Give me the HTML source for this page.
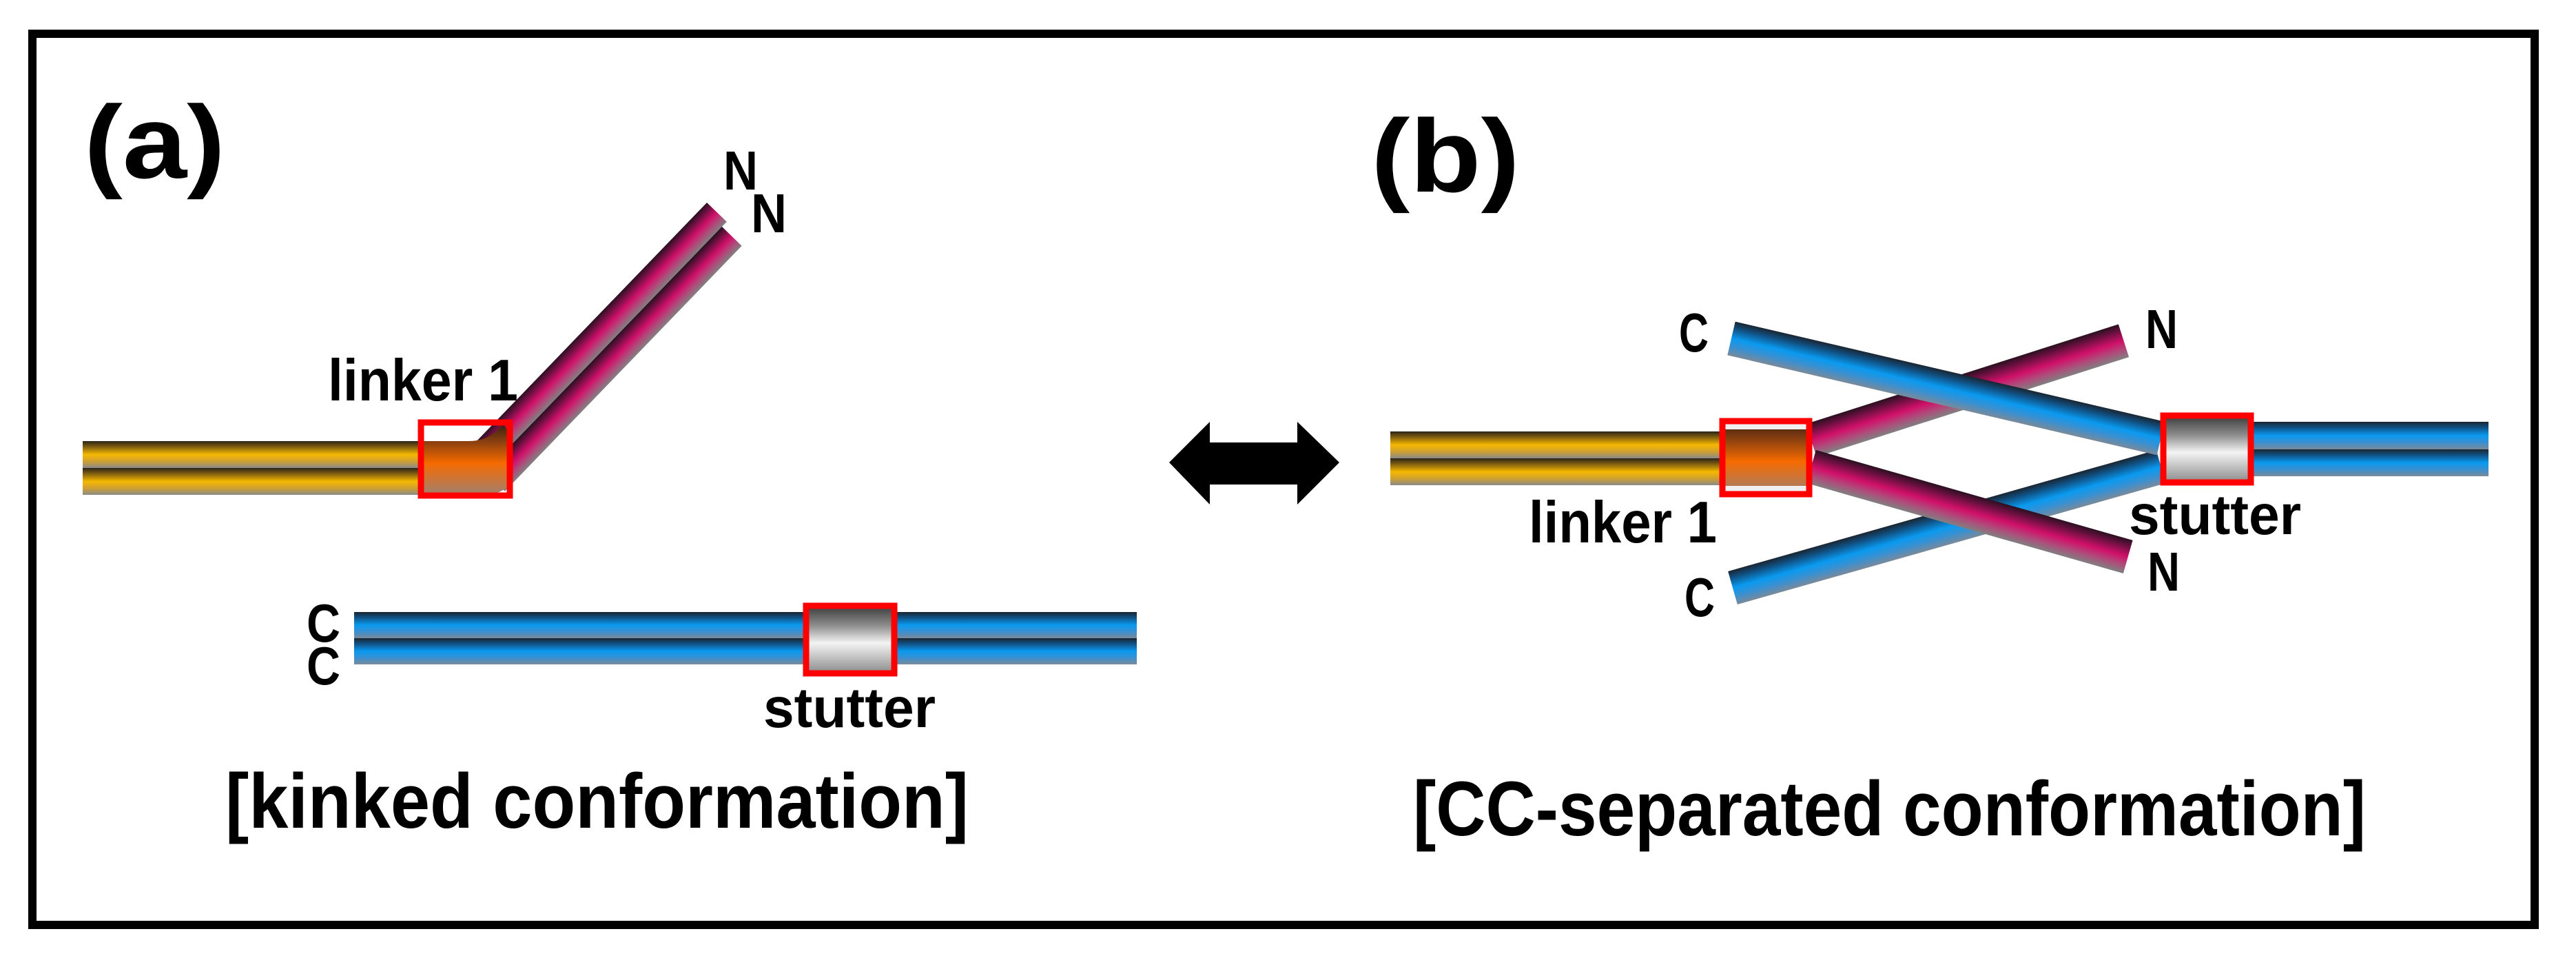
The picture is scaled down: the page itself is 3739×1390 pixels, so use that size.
<!DOCTYPE html>
<html><head><meta charset="utf-8"><style>
html,body{margin:0;padding:0;background:#fff;}
svg{display:block;}
text{font-family:"Liberation Sans Narrow","Liberation Sans",sans-serif;font-weight:bold;fill:#000;}
</style></head><body>
<svg width="3739" height="1390" viewBox="0 0 3739 1390" xmlns="http://www.w3.org/2000/svg">
<defs>
<linearGradient id="gold" x1="0" y1="0" x2="0" y2="1">
<stop offset="0" stop-color="#2a2418"/><stop offset="0.2" stop-color="#7a5a10"/><stop offset="0.5" stop-color="#f5b800"/><stop offset="0.75" stop-color="#d0a030"/><stop offset="1" stop-color="#8a8a8a"/>
</linearGradient>
<linearGradient id="blue" x1="0" y1="0" x2="0" y2="1">
<stop offset="0" stop-color="#1a2530"/><stop offset="0.2" stop-color="#104f80"/><stop offset="0.5" stop-color="#0a9af0"/><stop offset="0.75" stop-color="#3a90d0"/><stop offset="1" stop-color="#7a8a9a"/>
</linearGradient>
<linearGradient id="mag" x1="0" y1="0" x2="0" y2="1">
<stop offset="0" stop-color="#2a1020"/><stop offset="0.2" stop-color="#6a1040"/><stop offset="0.5" stop-color="#d0106a"/><stop offset="0.75" stop-color="#b04a7a"/><stop offset="1" stop-color="#808080"/>
</linearGradient>
<linearGradient id="orange" x1="0" y1="0" x2="0" y2="1">
<stop offset="0" stop-color="#3a2010"/><stop offset="0.25" stop-color="#8a4010"/><stop offset="0.55" stop-color="#f56a00"/><stop offset="1" stop-color="#a08070"/>
</linearGradient>
<linearGradient id="grey" x1="0" y1="0" x2="0" y2="1">
<stop offset="0" stop-color="#3a3a3a"/><stop offset="0.3" stop-color="#909090"/><stop offset="0.55" stop-color="#f4f4f4"/><stop offset="1" stop-color="#8a8a8a"/>
</linearGradient>
</defs>
<rect x="47" y="49" width="3632" height="1293" fill="none" stroke="#000" stroke-width="12"/>

<text x="122" y="258" font-size="150" textLength="205" lengthAdjust="spacingAndGlyphs">(a)</text>
<rect x="120" y="640" width="500" height="39" fill="url(#gold)"/>
<rect x="120" y="679" width="500" height="39" fill="url(#gold)"/>
<g transform="translate(704,685) rotate(-46)">
<rect x="0" y="-40" width="505" height="40" fill="url(#mag)"/>
<rect x="0" y="0" width="495" height="40" fill="url(#mag)"/>
</g>
<path d="M612 640 H680 Q712 640 730 615 L742 632 L742 700 Q730 718 700 718 H612 Z" fill="url(#orange)"/>
<rect x="611" y="613" width="129" height="106" fill="none" stroke="#ff0000" stroke-width="9"/>
<text x="476" y="581" font-size="85" textLength="276" lengthAdjust="spacingAndGlyphs">linker 1</text>
<text x="1050" y="275" font-size="80" textLength="50" lengthAdjust="spacingAndGlyphs">N</text>
<text x="1090" y="337" font-size="80" textLength="52" lengthAdjust="spacingAndGlyphs">N</text>

<rect x="514" y="888" width="1136" height="38" fill="url(#blue)"/>
<rect x="514" y="926" width="1136" height="38" fill="url(#blue)"/>
<rect x="1170" y="879" width="128" height="98" fill="url(#grey)"/>
<rect x="1170" y="879" width="128" height="98" fill="none" stroke="#ff0000" stroke-width="9"/>
<text x="445" y="931" font-size="78" textLength="49" lengthAdjust="spacingAndGlyphs">C</text>
<text x="445" y="993" font-size="78" textLength="49" lengthAdjust="spacingAndGlyphs">C</text>
<text x="1108" y="1055" font-size="82" textLength="250" lengthAdjust="spacingAndGlyphs">stutter</text>
<text x="327" y="1201" font-size="112" textLength="1079" lengthAdjust="spacingAndGlyphs">[kinked conformation]</text>

<path d="M1697 671 L1756 612 L1756 642 L1883 642 L1883 612 L1944 671 L1883 732 L1883 703 L1756 703 L1756 732 Z" fill="#000"/>

<text x="1990" y="278" font-size="150" textLength="216" lengthAdjust="spacingAndGlyphs">(b)</text>
<rect x="2018" y="626" width="485" height="39" fill="url(#gold)"/>
<rect x="2018" y="665" width="485" height="39" fill="url(#gold)"/>
<g transform="translate(2629,639) rotate(-17.7)"><rect x="0" y="-25" width="476" height="50" fill="url(#mag)"/></g>
<g transform="translate(2515,853) rotate(-15.8)"><rect x="0" y="-25" width="646" height="50" fill="url(#blue)"/></g>
<g transform="translate(2629,677) rotate(15.9)"><rect x="0" y="-25" width="478" height="50" fill="url(#mag)"/></g>
<g transform="translate(2513,491) rotate(13.1)"><rect x="0" y="-25" width="640" height="50" fill="url(#blue)"/></g>
<rect x="3265" y="612" width="347" height="40" fill="url(#blue)"/>
<rect x="3265" y="652" width="347" height="39" fill="url(#blue)"/>
<rect x="2500" y="611" width="126" height="106" fill="url(#orange)"/>
<rect x="2504" y="615" width="118" height="8" fill="#f0f0f0"/>
<rect x="2504" y="705" width="118" height="8" fill="#f0f0f0"/>
<rect x="2500" y="611" width="126" height="106" fill="none" stroke="#ff0000" stroke-width="9"/>
<rect x="3140" y="603" width="127" height="97" fill="url(#grey)"/>
<rect x="3140" y="603" width="127" height="97" fill="none" stroke="#ff0000" stroke-width="9"/>
<text x="2437" y="510" font-size="80" textLength="43" lengthAdjust="spacingAndGlyphs">C</text>
<text x="3114" y="505" font-size="80" textLength="47" lengthAdjust="spacingAndGlyphs">N</text>
<text x="3117" y="857" font-size="80" textLength="47" lengthAdjust="spacingAndGlyphs">N</text>
<text x="2445" y="894" font-size="80" textLength="44" lengthAdjust="spacingAndGlyphs">C</text>
<text x="2219" y="787" font-size="85" textLength="273" lengthAdjust="spacingAndGlyphs">linker 1</text>
<text x="3090" y="775" font-size="82" textLength="250" lengthAdjust="spacingAndGlyphs">stutter</text>
<text x="2051" y="1212" font-size="112" textLength="1383" lengthAdjust="spacingAndGlyphs">[CC-separated conformation]</text>
</svg>
</body></html>
